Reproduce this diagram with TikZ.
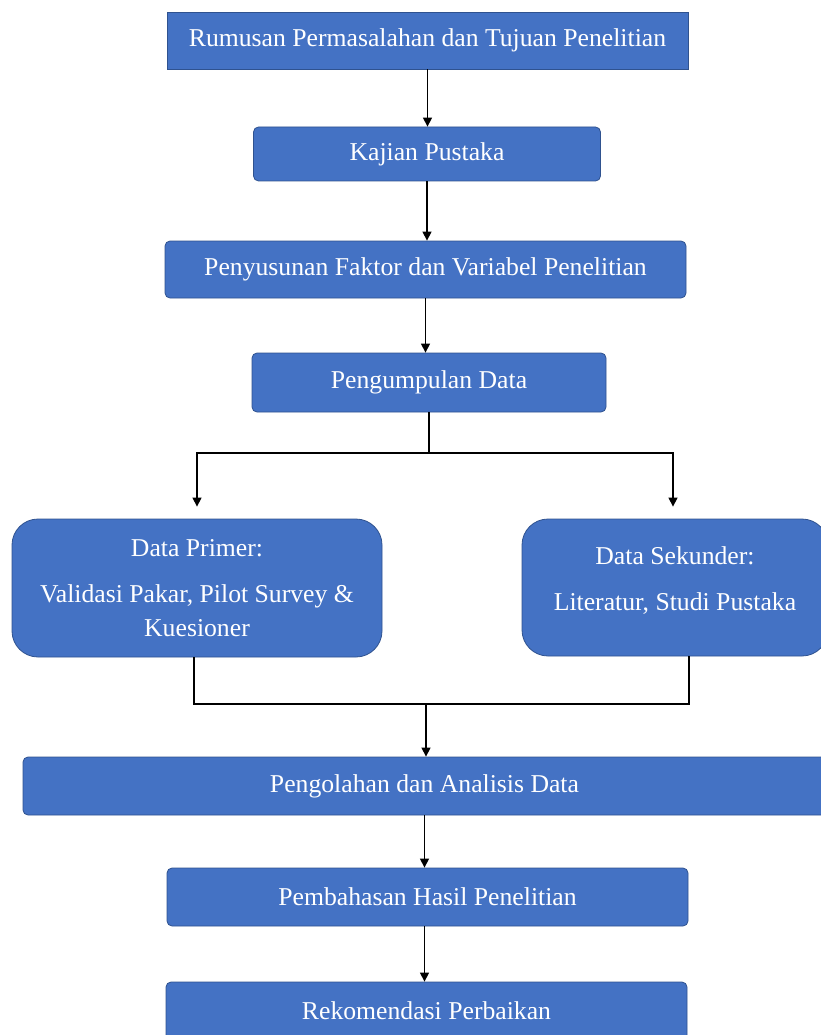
\documentclass[tikz,border=0pt]{standalone}
\usepackage{fontspec}
\setmainfont{Liberation Serif}
\usetikzlibrary{arrows.meta,positioning}
\definecolor{boxblue}{HTML}{4472C4}
\definecolor{boxline}{HTML}{2F528F}

\begin{document}
\begin{tikzpicture}[x=1pt,y=-1pt,every node/.append style={font=\fontsize{25.7}{34}\selectfont,
                    text=white,align=center},
    box/.style={draw=boxline,fill=boxblue,line width=.8pt,rounded corners=5pt,inner sep=0pt},
    bigbox/.style={box,rounded corners=26pt},
    arr/.style={-{Triangle[length=9pt,width=9pt]},line width=1.3pt},
    link/.style={line width=1.3pt}]
    \useasboundingbox (0,0) rectangle (820,1035);
    % the chain of steps
    \node[box,sharp corners,minimum width=521pt,minimum height=57pt] (rumusan) at (427.5,40.5)
         {Rumusan Permasalahan dan Tujuan Penelitian};
    \node[box,minimum width=347pt,minimum height=54pt] (kajian) at (427,154) {Kajian Pustaka};
    \node[box,minimum width=521pt,minimum height=57pt] (susun) at (425.5,269.5)
         {Penyusunan Faktor dan Variabel Penelitian};
    \node[box,minimum width=354pt,minimum height=59pt] (kumpul) at (429,382.5) {Pengumpulan Data};
    \node[bigbox,minimum width=370pt,minimum height=138pt] (primer) at (197,588)
         {Data Primer:\\[12pt]Validasi Pakar, Pilot Survey \&\\Kuesioner};
    \node[bigbox,minimum width=306pt,minimum height=137pt] (sekunder) at (675,587.5)
         {Data Sekunder:\\[12pt]Literatur, Studi Pustaka\\[-17pt]\mbox{}};
    \node[box,minimum width=803pt,minimum height=58pt] (olah) at (424.5,786)
         {Pengolahan dan Analisis Data};
    \node[box,minimum width=521pt,minimum height=58pt] (bahas) at (427.5,897)
         {Pembahasan Hasil Penelitian};
    \node[box,minimum width=521pt,minimum height=58pt] (rekom) at (426.5,1011)
         {Rekomendasi Perbaikan};
    % connectors
    \draw[arr] (rumusan.south) -- (rumusan.south |- kajian.north);
    \draw[arr] (kajian.south) -- (kajian.south |- susun.north);
    \draw[arr] (susun.south) -- (susun.south |- kumpul.north);
    \coordinate (pisah) at (kumpul.south |- 0,453);
    \draw[link] (kumpul.south) -- (pisah);
    \draw[arr,shorten >=12pt] (pisah) -| (primer.north);
    \draw[arr,shorten >=12pt] (pisah) -| ([xshift=-2pt]sekunder.north);
    \coordinate (gabung) at (426,704);
    \draw[link] ([xshift=-3pt]primer.south) |- (gabung);
    \draw[link] ([xshift=14pt]sekunder.south) |- (gabung);
    \draw[arr] (gabung) -- (gabung |- olah.north);
    \draw[arr] (olah.south) -- (olah.south |- bahas.north);
    \draw[arr] (olah.south |- bahas.south) -- (olah.south |- rekom.north);
\end{tikzpicture}
\end{document}
